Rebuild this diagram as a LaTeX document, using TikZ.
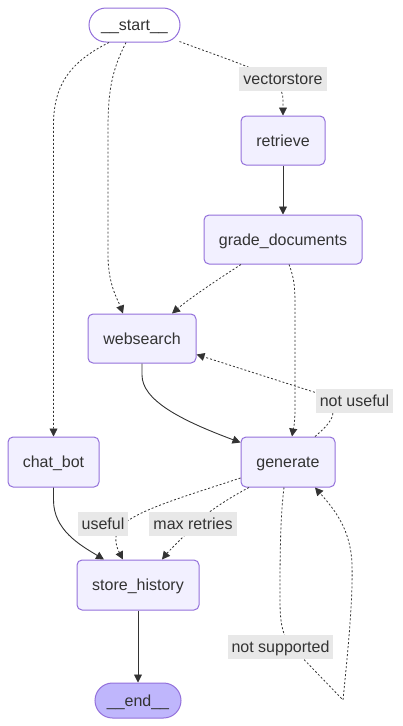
\documentclass[tikz,border=0pt]{standalone}
\usepackage{fontspec}
\setmainfont{Liberation Sans}
\usetikzlibrary{arrows.meta,calc,shapes.misc}
\definecolor{nodefill}{HTML}{F2F0FF}
\definecolor{nodeline}{HTML}{9370DB}
\definecolor{endfill}{HTML}{BFB6FC}
\definecolor{ink}{HTML}{333333}
\definecolor{lblbg}{HTML}{E8E8E8}
\begin{document}
\begin{tikzpicture}[x=1pt,y=-1pt,
 font=\fontsize{16pt}{19pt}\selectfont, text=ink,
 every node/.style={text height=14.5pt, text depth=3.4pt},
 box/.style={draw=nodeline, fill=nodefill, rounded corners=5pt, line width=1pt, inner sep=0pt},
 term/.style={rounded rectangle, draw=nodeline, line width=1pt, inner sep=0pt},
 lbl/.style={fill=lblbg, inner xsep=4pt, inner ysep=0pt, minimum height=24pt, text=ink},
 edge/.style={draw=ink, line width=0.9pt, -{Triangle[length=8pt,width=8pt]}},
 cond/.style={edge, line width=0.8pt, dash pattern=on 2pt off 2pt},
]
\useasboundingbox (0,0) rectangle (402,726);
% nodes
\node[term, fill=white, minimum width=91pt, minimum height=34pt] (start) at (134.5,25) {\_\_start\_\_};
\node[box, minimum width=84pt, minimum height=49pt] (retrieve) at (283,140.5) {retrieve};
\node[box, minimum width=158pt, minimum height=49pt] (grade) at (283,239.5) {grade\_documents};
\node[box, minimum width=108pt, minimum height=49pt] (web) at (142,338.5) {websearch};
\node[box, minimum width=91pt, minimum height=50pt] (chat) at (53.5,462) {chat\_bot};
\node[box, minimum width=94pt, minimum height=50pt] (gen) at (288,462) {generate};
\node[box, minimum width=122pt, minimum height=50pt] (store) at (138,585) {store\_history};
\node[term, fill=endfill, minimum width=86pt, minimum height=35pt] (finish) at (138,700.5) {\_\_end\_\_};
% edges
\draw[cond] ([xshift=45pt,yshift=1pt]start.south) .. controls (250,68) and (283,75) .. (283,100) -- (retrieve.north);
\draw[cond] ([xshift=-25.5pt]start.south) .. controls (70,62) and (53.5,85) .. (53.5,125) -- (chat.north);
\draw[cond] ([xshift=-8.5pt]start.south) .. controls (112,70) and (108,90) .. (108,130) -- (108,255) .. controls (108,285) and (118,300) .. ([xshift=-19pt]web.north);
\draw[edge] (retrieve.south) -- (grade.north);
\draw[cond] ([xshift=-42pt]grade.south) .. controls (220,278) and (190,298) .. ([xshift=30pt]web.north);
\draw[cond] ([xshift=6pt]grade.south) .. controls (295,280) and (295,290) .. (295,310) -- (295,410) .. controls (295,425) and (293,430) .. ([xshift=4pt]gen.north);
\draw[edge] (web.south) -- (142,375) .. controls (142,400) and (180,420) .. ([yshift=-6pt]gen.north west);
\draw[cond] ([xshift=27pt]gen.north) .. controls (325,428) and (333,420) .. (333,412) .. controls (333,402) and (325,396) .. (317,393) -- ([yshift=-16pt]web.east);
\draw[cond] ([yshift=-16pt]gen.west) .. controls (180,498) and (130,512) .. (118,530) .. controls (113,540) and (118,550) .. ([xshift=-15pt]store.north);
\draw[cond] ([xshift=-39pt]gen.south) .. controls (225,500) and (195,520) .. (185,535) .. controls (175,545) and (168,552) .. ([xshift=24pt]store.north);
\draw[cond] ([xshift=-4pt]gen.south) .. controls (280,520) and (280,560) .. (280,600) .. controls (280,625) and (283,635) .. (290,645) -- (343,700) .. controls (348,650) and (353,600) .. (352,565) .. controls (351,530) and (335,510) .. ([xshift=27pt]gen.south);
\draw[edge] (chat.south) -- (53.5,500) .. controls (53.5,530) and (80,545) .. ([xshift=-34pt]store.north);
\draw[edge] (store.south) -- (finish.north);
% labels
\node[lbl] (lvec) at (283,79) {vectorstore};
\node[lbl] (lnotuse) at (354.5,401) {not useful};
\node[lbl] (luse) at (103,524) {useful};
\node[lbl] (lmax) at (193,524) {max retries};
\node[lbl] (lnotsup) at (280.5,647) {not supported};
\end{tikzpicture}
\end{document}
